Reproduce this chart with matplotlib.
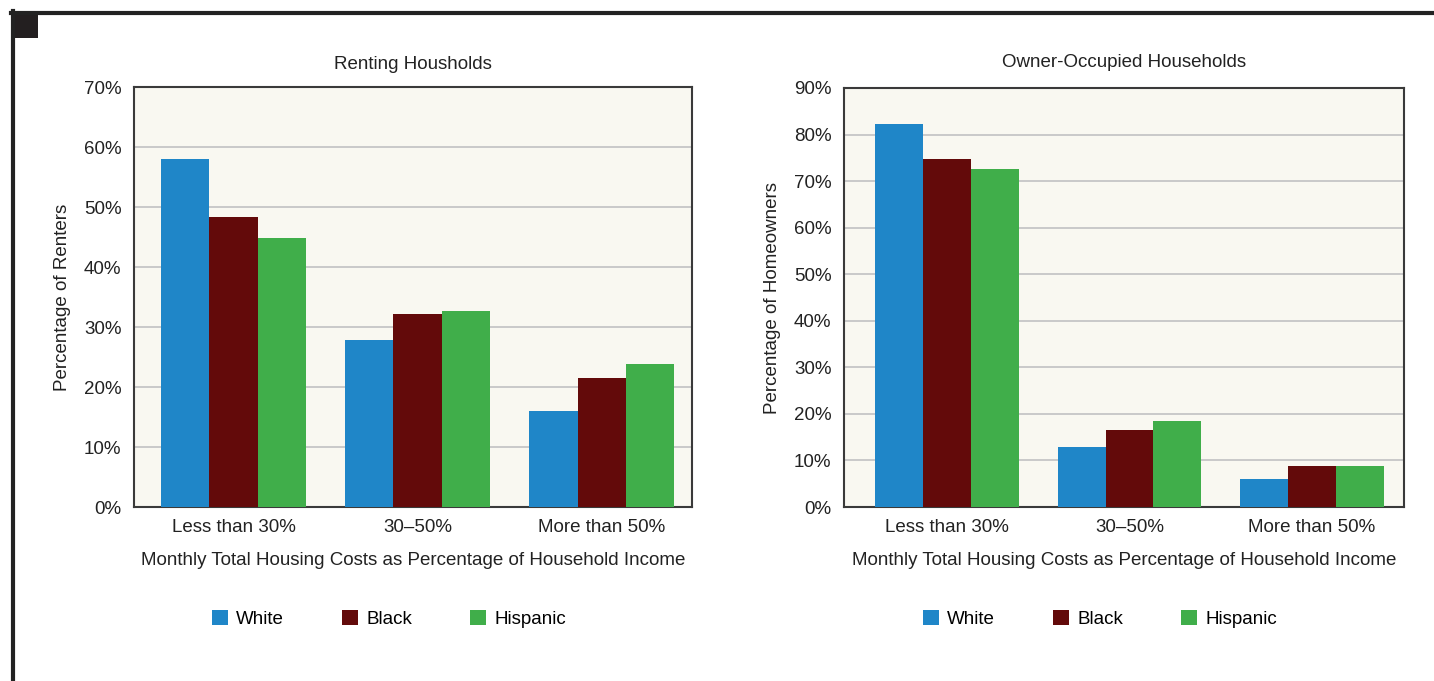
import numpy as np
import matplotlib.pyplot as plt
from matplotlib.patches import Rectangle, Patch
from matplotlib.lines import Line2D

plt.rcParams['font.family'] = ['Liberation Sans', 'DejaVu Sans']

categories = ['Less than 30%', '30–50%', 'More than 50%']
groups = ['White', 'Black', 'Hispanic']
colors = ['#1f86c8', '#630a0a', '#40ae4a']

renters_white = [58.0, 27.8, 16.0]
renters_black = [48.4, 32.2, 21.5]
renters_hispanic = [44.9, 32.6, 23.9]

owners_white = [82.2, 12.8, 6.1]
owners_black = [74.8, 16.5, 8.9]
owners_hispanic = [72.6, 18.5, 8.9]

fig = plt.figure(figsize=(14.34, 6.81), dpi=100)
W, H = 1434, 681
FS = 13.5

def px_axes(x0, y0, x1, y1):
    return fig.add_axes([x0 / W, 1 - y1 / H, (x1 - x0) / W, (y1 - y0) / H])

ax1 = px_axes(134, 87, 692, 507)
ax2 = px_axes(844, 88, 1404, 507)

def draw(ax, series, ymax, title, ylabel, xlim, tpad):
    x = np.arange(len(categories))
    w = 0.262
    for i, (vals, c) in enumerate(zip(series, colors)):
        ax.bar(x + (i - 1) * w, vals, w, color=c, zorder=3, linewidth=0)
    ax.set_facecolor('#f9f8f1')
    ax.set_ylim(0, ymax)
    ax.set_xlim(*xlim)
    ax.set_yticks(np.arange(0, ymax + 1, 10))
    ax.set_yticklabels([f'{v}%' for v in range(0, ymax + 1, 10)])
    ax.set_xticks(x)
    ax.set_xticklabels(categories)
    ax.yaxis.grid(True, color='#c6c6c6', linewidth=1.3, zorder=0)
    ax.tick_params(length=0, labelsize=FS, colors='#222222', pad=9)
    ax.tick_params(axis='x', pad=9)
    for s in ax.spines.values():
        s.set_color('#3a3a3a')
        s.set_linewidth(1.5)
    ax.set_title(title, fontsize=FS, color='#222222', pad=tpad)
    ax.set_ylabel(ylabel, fontsize=FS, color='#222222', labelpad=9)
    ax.set_xlabel('Monthly Total Housing Costs as Percentage of Household Income',
                  fontsize=FS, color='#222222', labelpad=11)

draw(ax1, [renters_white, renters_black, renters_hispanic], 70,
     'Renting Housholds', 'Percentage of Renters', (-0.54, 2.49), 13)
draw(ax2, [owners_white, owners_black, owners_hispanic], 90,
     'Owner-Occupied Households', 'Percentage of Homeowners', (-0.565, 2.505), 15)

handles = [Patch(facecolor=c, edgecolor='none', label=g) for c, g in zip(colors, groups)]
for cx in (389 / W, 1100 / W):
    fig.legend(handles=handles, loc='center', bbox_to_anchor=(cx, 1 - 619 / H),
               ncol=3, frameon=False, fontsize=FS, handlelength=0.85, handleheight=0.85,
               handletextpad=0.45, columnspacing=3.1)

# page frame
fig.add_artist(Line2D([11 / W, 1], [1 - 12.5 / H, 1 - 12.5 / H], color='#222222', linewidth=3))
fig.add_artist(Line2D([12.5 / W, 12.5 / W], [0, 1 - 11 / H], color='#222222', linewidth=3))
fig.add_artist(Rectangle((11 / W, 1 - 38 / H), 27 / W, 27 / H, transform=fig.transFigure,
                         facecolor='#231f20', edgecolor='none'))

fig.savefig('out.png', dpi=100)
